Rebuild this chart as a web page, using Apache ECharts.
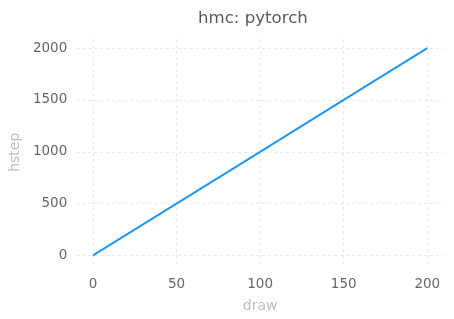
<!DOCTYPE html>
<html><head><meta charset="utf-8">
<script src="https://cdn.jsdelivr.net/npm/echarts@6/dist/echarts.min.js"></script>
<style>html,body{margin:0;padding:0;background:#fff}#c{width:454px;height:319px}</style>
</head><body><div id="c"></div>
<script>
const draws = [0, 50, 100, 150, 200];
const hsteps = [0, 500, 1000, 1500, 2000];
const xTicks = [0, 50, 100, 150, 200];
const yTicks = [0, 500, 1000, 1500, 2000];
const font = 'DejaVu Sans';
const chart = echarts.init(document.getElementById('c'), null, {renderer: 'canvas'});
chart.setOption({
  animation: false,
  backgroundColor: '#fff',
  title: {text: 'hmc: pytorch', left: 193, top: 5,
    textStyle: {fontFamily: font, fontSize: 16.6, fontWeight: 'normal', color: '#595959'}},
  grid: {left: 74, right: 10, top: 39, bottom: 53.5},
  xAxis: {type: 'value', min: -10, max: 210,
    name: 'draw', nameLocation: 'middle', nameGap: 34,
    nameTextStyle: {fontFamily: font, fontSize: 14, color: '#bdbdbd'},
    axisLine: {show: false}, axisTick: {show: false, customValues: xTicks},
    axisLabel: {customValues: xTicks, formatter: v => String(v), fontFamily: font, fontSize: 13.5, color: '#666', margin: 12},
    splitLine: {show: true, lineStyle: {type: [3, 3], color: '#e8e8e8', width: 1}}},
  yAxis: {type: 'value', min: -97, max: 2088,
    name: 'hstep', nameLocation: 'middle', nameGap: 50,
    nameTextStyle: {fontFamily: font, fontSize: 14, color: '#bdbdbd'},
    axisLine: {show: false}, axisTick: {show: false, customValues: yTicks},
    axisLabel: {customValues: yTicks, formatter: v => String(v), fontFamily: font, fontSize: 13.5, color: '#666', margin: 9},
    splitLine: {show: true, lineStyle: {type: [3, 3], color: '#e8e8e8', width: 1}}},
  series: [{type: 'line', data: draws.map((d, i) => [d, hsteps[i]]),
    showSymbol: false, lineStyle: {color: '#2196f3', width: 2}}]
});
</script></body></html>
